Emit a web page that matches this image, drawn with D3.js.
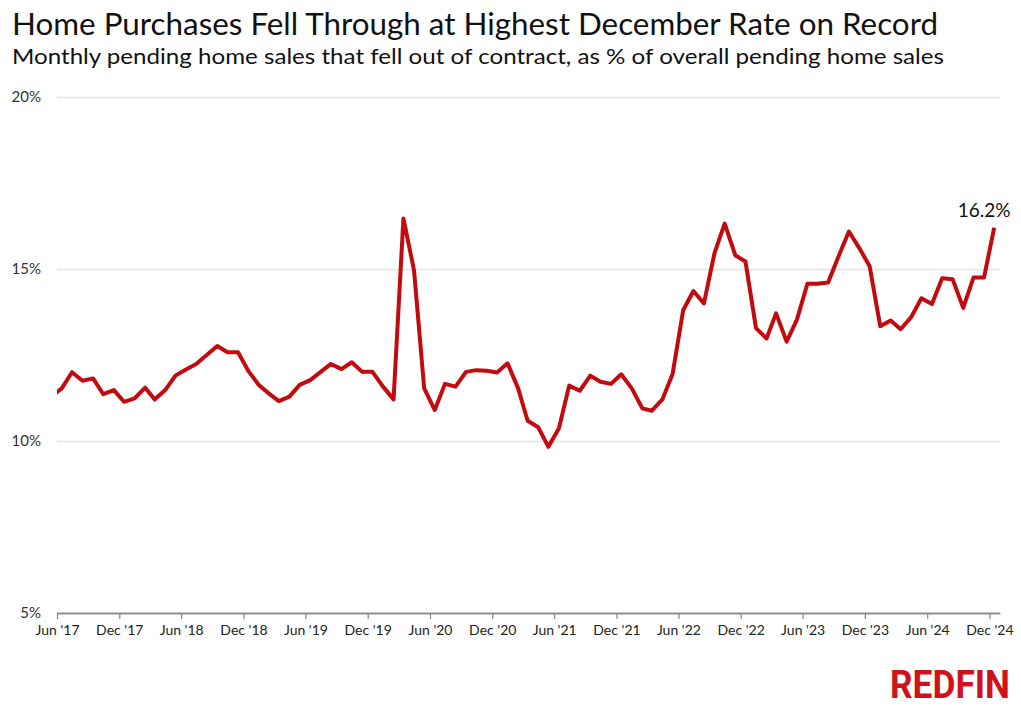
<!DOCTYPE html>
<html>
<head>
<meta charset="utf-8">
<script src="https://cdn.jsdelivr.net/npm/d3@7"></script>
<style>
  body { margin: 0; background: #fff; }
  svg { font-family: Lato, "Noto Sans", sans-serif; }
</style>
</head>
<body>
<div id="chart"></div>
<script>
// first month of the series (line is clipped at the Jun '17 axis start)
const firstMonth = new Date(2017, 4, 1);

// share of pending sales that fell out of contract, %, May '17 .. Dec '24
const fallThroughRate = [
  11.30,
  11.53, 12.00, 11.75, 11.82, 11.36, 11.48, 11.14,
  11.24, 11.55, 11.21, 11.48, 11.90, 12.08, 12.24, 12.50, 12.76, 12.58, 12.58, 12.04,
  11.63, 11.37, 11.16, 11.29, 11.63, 11.77, 12.00, 12.24, 12.09, 12.29, 12.01, 12.01,
  11.58, 11.21, 16.47, 14.97, 11.53, 10.90, 11.66, 11.58, 12.01, 12.06, 12.04, 11.99,
  12.26, 11.53, 10.59, 10.40, 9.83, 10.37, 11.61, 11.46, 11.90, 11.72, 11.66, 11.94,
  11.53, 10.95, 10.88, 11.21, 11.95, 13.80, 14.36, 14.00, 15.46, 16.32, 15.40, 15.22,
  13.28, 12.98, 13.71, 12.89, 13.52, 14.57, 14.57, 14.61, 15.38, 16.09, 15.60, 15.08,
  13.34, 13.50, 13.25, 13.60, 14.15, 13.98, 14.73, 14.70, 13.87, 14.75, 14.75, 16.20
];

// axis ticks
const yTicks = [5, 10, 15, 20];
const xTickLabels = ["Jun '17","Dec '17","Jun '18","Dec '18","Jun '19","Dec '19","Jun '20","Dec '20",
  "Jun '21","Dec '21","Jun '22","Dec '22","Jun '23","Dec '23","Jun '24","Dec '24"];
const xTickDates = d3.timeMonth.range(new Date(2017, 5, 1), new Date(2025, 0, 1), 6);

const title = "Home Purchases Fell Through at Highest December Rate on Record";
const subtitle = "Monthly pending home sales that fell out of contract, as % of overall pending home sales";

// set up
const w = 1021;
const h = 707;
const red = "#c30a0e";

const data = fallThroughRate.map((v, i) => ({
  date: d3.timeDay.offset(d3.timeMonth.offset(firstMonth, i), 14),
  value: v
}));

const x = d3.scaleTime()
  .domain([new Date(2017, 5, 1), new Date(2025, 0, 1)])
  .range([57, 1000]);

const y = d3.scaleLinear()
  .domain([5, 20])
  .range([613, 97]);

const svg = d3.select("#chart").append("svg")
  .attr("width", w)
  .attr("height", h);

svg.append("defs").append("clipPath")
  .attr("id", "plot-clip")
  .append("rect")
  .attr("x", x.range()[0])
  .attr("y", 0)
  .attr("width", x.range()[1] - x.range()[0] + 10)
  .attr("height", h);

// titles
svg.append("text")
  .attr("x", 12)
  .attr("y", 35)
  .attr("font-size", 31)
  .attr("textLength", 926)
  .attr("lengthAdjust", "spacingAndGlyphs")
  .attr("fill", "#111")
  .text(title);

svg.append("text")
  .attr("x", 12)
  .attr("y", 64)
  .attr("font-size", 22)
  .attr("textLength", 932)
  .attr("lengthAdjust", "spacingAndGlyphs")
  .attr("fill", "#111")
  .text(subtitle);

// y grid + labels
const yAxis = d3.axisLeft(y)
  .tickValues(yTicks)
  .tickSize(-(x.range()[1] - x.range()[0]))
  .tickFormat(d => d + "%");

svg.append("g")
  .attr("class", "y-axis")
  .attr("transform", `translate(${x.range()[0]},0)`)
  .call(yAxis)
  .call(g => g.select(".domain").remove())
  .call(g => g.selectAll(".tick line")
    .attr("stroke", d => d === 5 ? "#888" : "#e3e3e3")
    .attr("stroke-width", d => d === 5 ? 1.6 : 1.4))
  .call(g => g.selectAll(".tick text")
    .attr("x", -16)
    .attr("font-family", "Lato, sans-serif")
    .attr("font-size", 15)
    .attr("fill", "#333"));

// x axis
const xAxis = d3.axisBottom(x)
  .tickValues(xTickDates)
  .tickSize(6)
  .tickSizeOuter(0)
  .tickFormat((d, i) => xTickLabels[i]);

svg.append("g")
  .attr("class", "x-axis")
  .attr("transform", `translate(0,${y(5)})`)
  .call(xAxis)
  .call(g => g.select(".domain").attr("stroke", "#888").attr("stroke-width", 1.6))
  .call(g => g.selectAll(".tick line").attr("stroke", "#888").attr("stroke-width", 1.2))
  .call(g => g.selectAll(".tick text")
    .attr("y", 12)
    .attr("font-family", "Lato, sans-serif")
    .attr("font-size", 14)
    .attr("fill", "#222"));

// line
const line = d3.line()
  .x(d => x(d.date))
  .y(d => y(d.value));

svg.append("path")
  .datum(data)
  .attr("clip-path", "url(#plot-clip)")
  .attr("fill", "none")
  .attr("stroke", red)
  .attr("stroke-width", 4)
  .attr("stroke-linejoin", "round")
  .attr("d", line);

// last value label
const last = data[data.length - 1];
svg.append("text")
  .attr("x", x(last.date) - 10)
  .attr("y", y(last.value) - 11)
  .attr("text-anchor", "middle")
  .attr("font-size", 19)
  .attr("fill", "#111")
  .text(last.value.toFixed(1) + "%");

// logo
svg.append("text")
  .attr("x", 1010)
  .attr("y", 698)
  .attr("text-anchor", "end")
  .attr("font-family", "'Liberation Sans Narrow', 'Roboto', sans-serif")
  .attr("font-weight", 700)
  .attr("font-size", 38)
  .attr("textLength", 120)
  .attr("lengthAdjust", "spacingAndGlyphs")
  .attr("fill", "#d0121b")
  .text("REDFIN");
</script>
</body>
</html>
